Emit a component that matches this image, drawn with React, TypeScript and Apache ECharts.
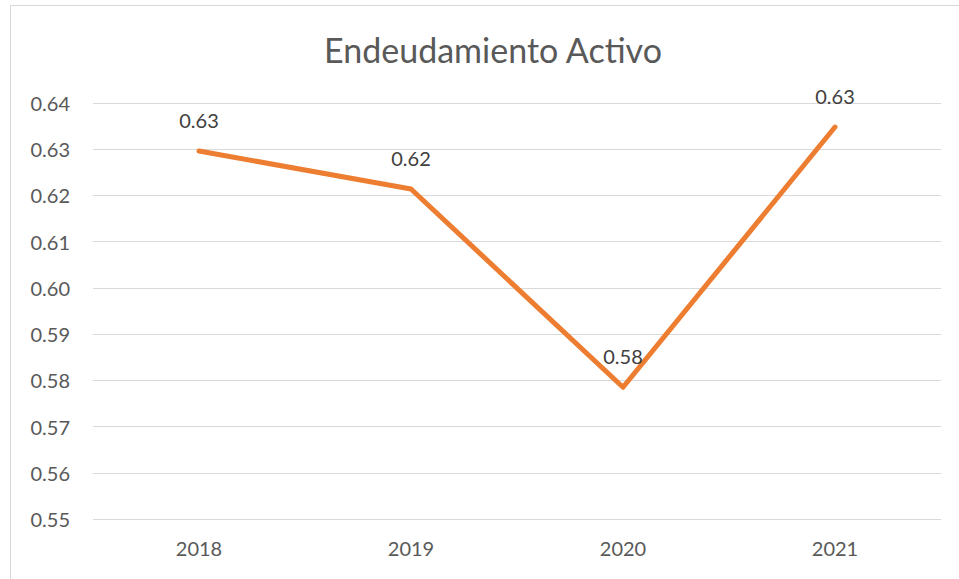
import React, { useEffect, useRef } from "react";
import * as echarts from "echarts";

const categories = ["2018", "2019", "2020", "2021"];
const values = [0.6296, 0.6214, 0.5785, 0.6348];
const labels = ["0.63", "0.62", "0.58", "0.63"];
const titleText = "Endeudamiento Activo";

export default function App() {
  const ref = useRef<HTMLDivElement>(null);
  useEffect(() => {
    document.body.style.margin = "0";
    const chart = echarts.init(ref.current!, null, { renderer: "svg" });
    const font = "Lato, 'Open Sans', sans-serif";
    chart.setOption({
      animation: false,
      backgroundColor: "#ffffff",
      textStyle: { fontFamily: font },
      title: {
        text: titleText,
        left: 488,
        top: 27,
        textAlign: "center",
        textStyle: { fontFamily: font, fontSize: 34, fontWeight: "normal", color: "#595959" },
      },
      graphic: [
        {
          type: "rect",
          shape: { x: 10.5, y: 5.5, width: 1000, height: 700 },
          style: { fill: "none", stroke: "#D9D9D9", lineWidth: 1 },
          silent: true,
        },
      ],
      grid: { left: 93, right: 18, top: 103, bottom: 60 },
      xAxis: {
        type: "category",
        data: categories,
        boundaryGap: true,
        axisLine: { show: false },
        axisTick: { show: false },
        axisLabel: { color: "#595959", fontSize: 20, margin: 19, fontFamily: font },
      },
      yAxis: {
        type: "value",
        min: 0.55,
        max: 0.64,
        interval: 0.01,
        axisLine: { show: false },
        axisTick: { show: false },
        axisLabel: {
          color: "#595959",
          fontSize: 20,
          margin: 23,
          fontFamily: font,
          formatter: (v: number) => v.toFixed(2),
        },
        splitLine: { lineStyle: { color: "#D9D9D9", width: 1 } },
      },
      series: [
        {
          type: "line",
          data: values,
          symbol: "circle",
          symbolSize: 0,
          showSymbol: true,
          lineStyle: { color: "#ED7D31", width: 5, cap: "round", join: "round" },
          itemStyle: { color: "#ED7D31" },
          label: {
            show: true,
            position: "top",
            distance: 21,
            color: "#404040",
            fontSize: 20,
            fontFamily: font,
            formatter: (p: any) => labels[p.dataIndex],
          },
        },
      ],
    });
    return () => chart.dispose();
  }, []);
  return <div ref={ref} style={{ width: 959, height: 579 }} />;
}
